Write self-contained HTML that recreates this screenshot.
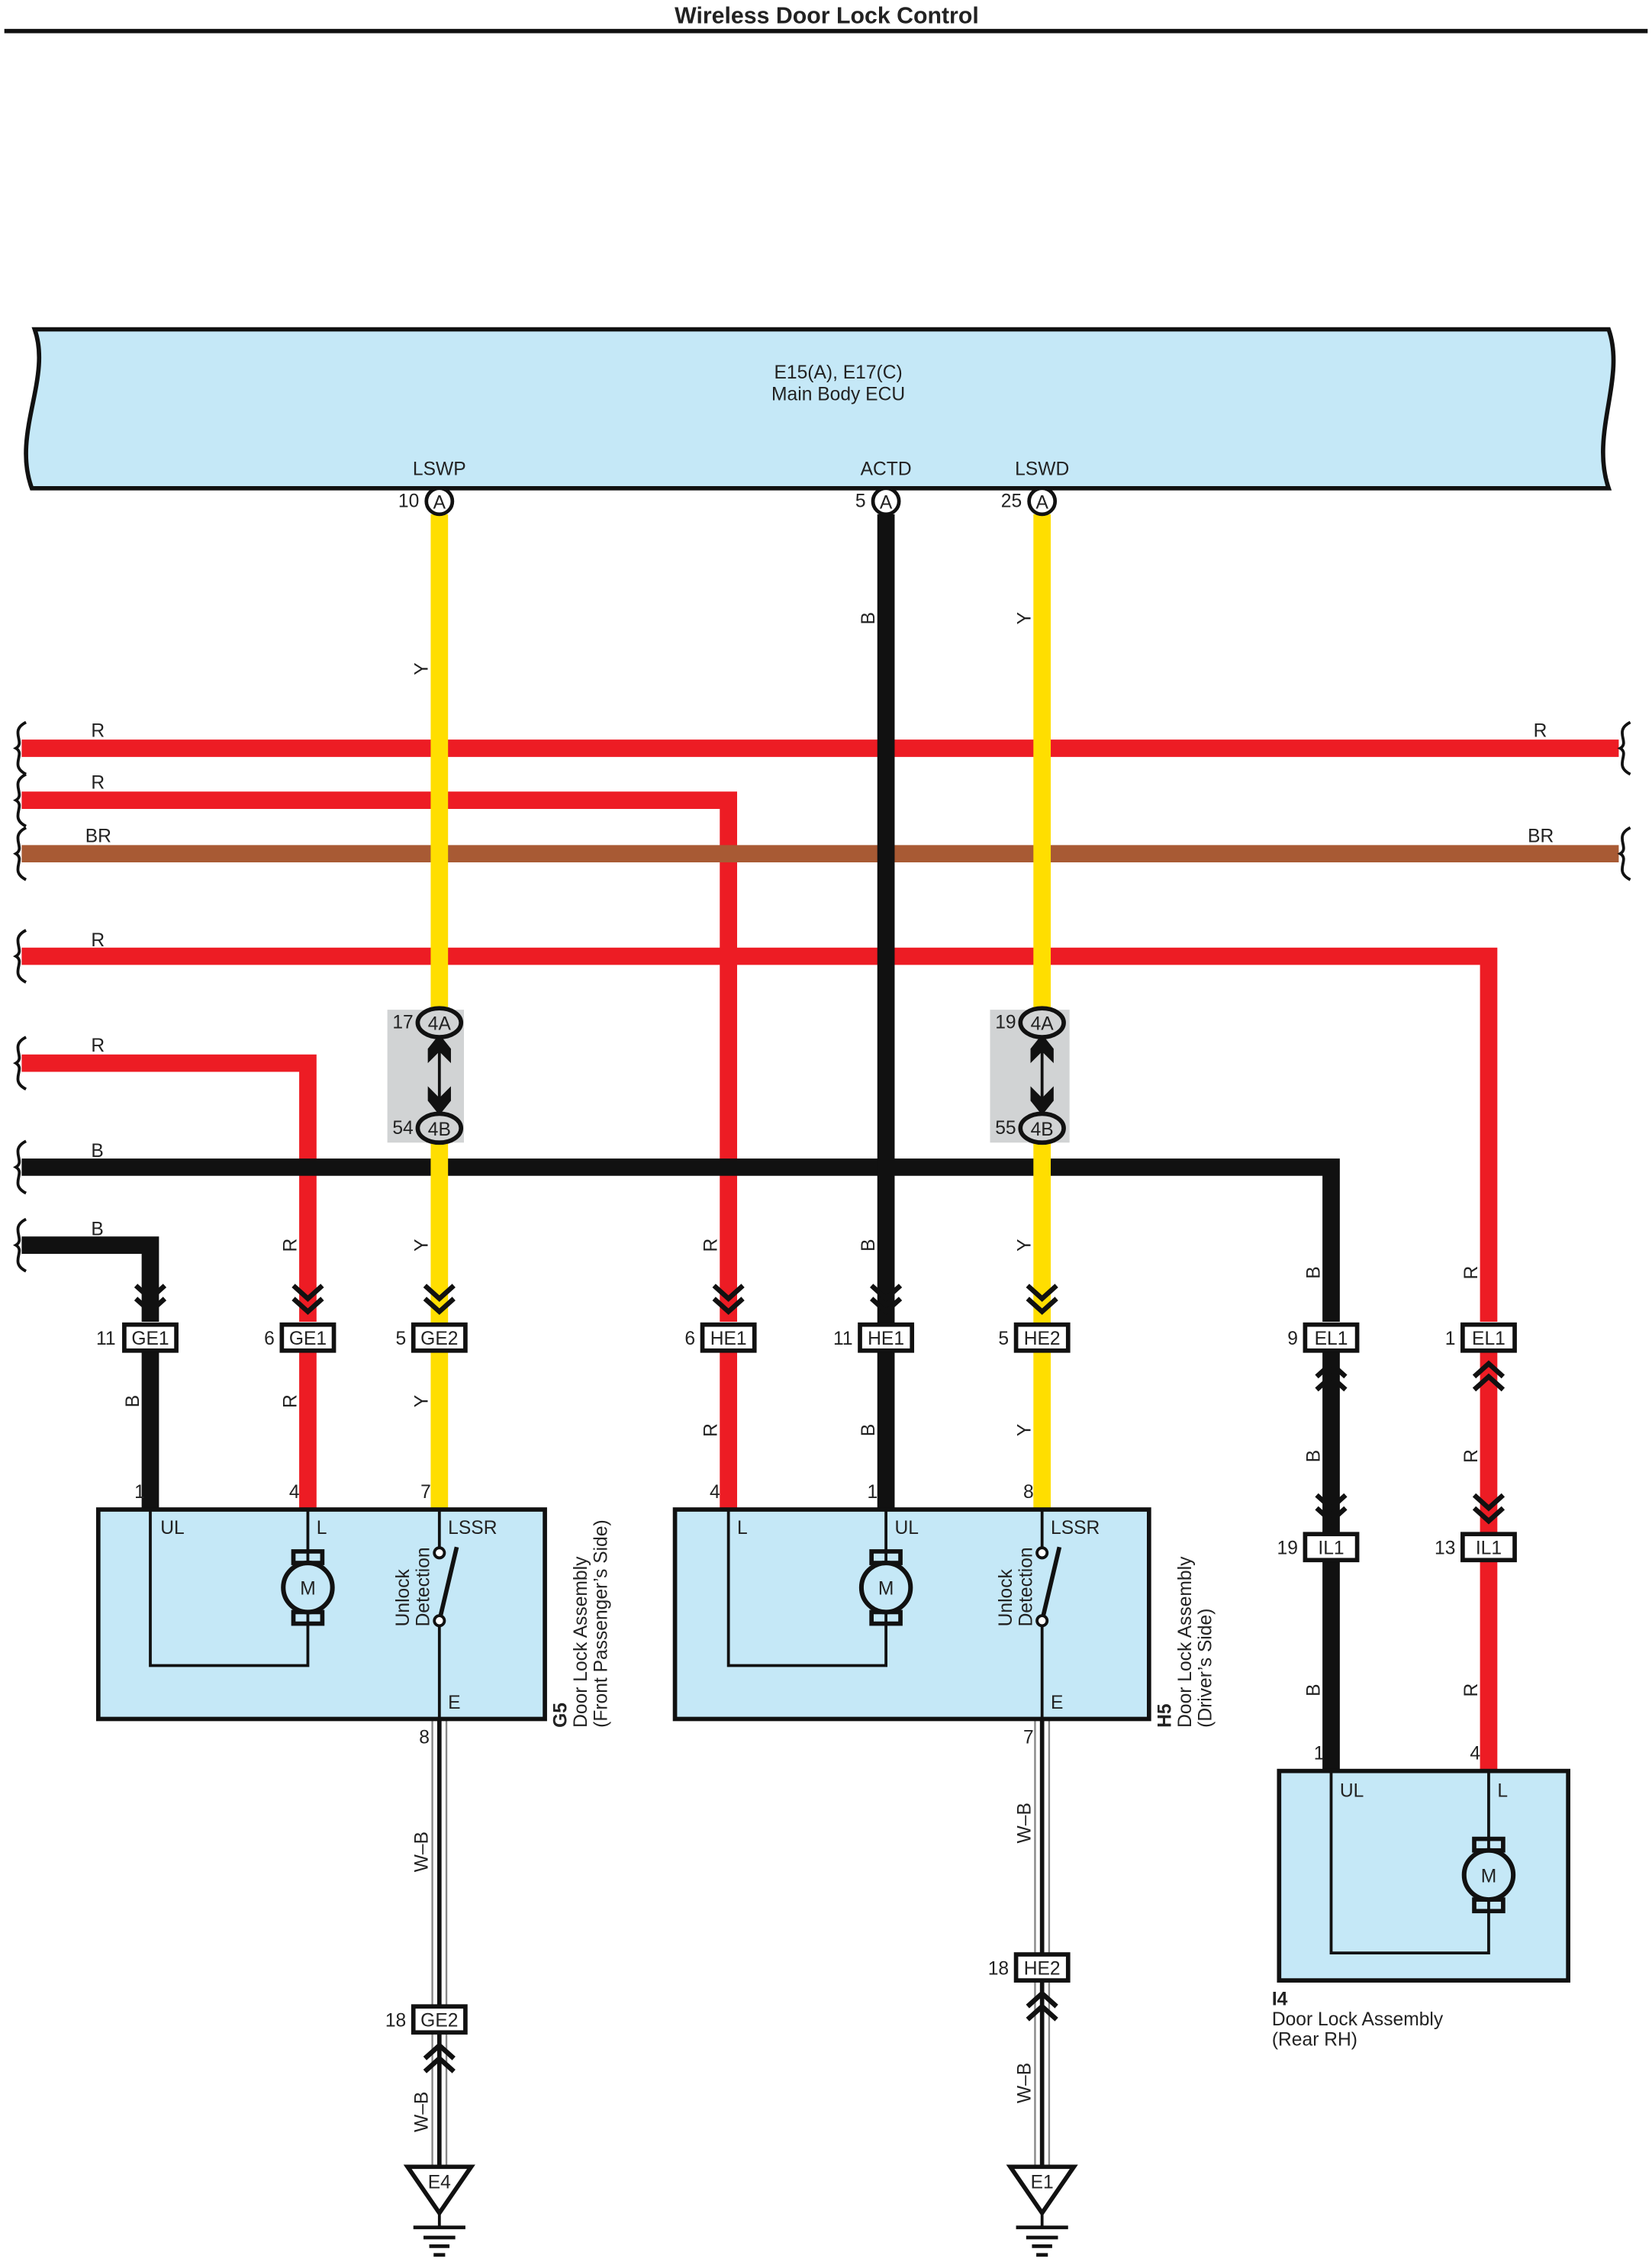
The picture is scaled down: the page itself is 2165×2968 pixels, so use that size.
<!DOCTYPE html>
<html><head><meta charset="utf-8">
<style>
html,body{margin:0;padding:0;background:#fff;}
svg{display:block;}
text{font-family:"Liberation Sans",Arial,sans-serif;fill:#222;}
</style></head>
<body>
<svg width="2165" height="2968" viewBox="0 0 1143 1568" preserveAspectRatio="none" xmlns="http://www.w3.org/2000/svg">
<defs>
<g id="chevD"><path d="M-10,-27 L0,-18 L10,-27 M-10,-18 L0,-9 L10,-18" fill="none" stroke="#111" stroke-width="3.4"/></g>
<g id="chevU"><path d="M-10,27 L0,18 L10,27 M-10,18 L0,9 L10,18" fill="none" stroke="#111" stroke-width="3.4"/></g>
<g id="cb"><rect x="-18" y="917" width="36" height="18" fill="#fff" stroke="#111" stroke-width="3"/></g>
<g id="motor"><rect x="-10" y="-25" width="20" height="8" fill="none" stroke="#111" stroke-width="3"/><rect x="-10" y="17" width="20" height="8" fill="none" stroke="#111" stroke-width="3"/><circle r="17" fill="#c5e8f7" stroke="#111" stroke-width="3.2"/><text y="5" font-size="13" text-anchor="middle">M</text></g>
<g id="gnd"><path d="M-22,0 L22,0 L0,32 Z" fill="#fff" stroke="#111" stroke-width="3"/><line x1="0" y1="32" x2="0" y2="42" stroke="#111" stroke-width="2"/><line x1="-18" y1="42" x2="18" y2="42" stroke="#111" stroke-width="2.5"/><line x1="-11" y1="49" x2="11" y2="49" stroke="#111" stroke-width="2.5"/><line x1="-7" y1="55" x2="7" y2="55" stroke="#111" stroke-width="2.5"/><line x1="-4" y1="61" x2="4" y2="61" stroke="#111" stroke-width="2.5"/></g>
<g id="wave"><path d="M18,-18 C6,-12 18,-4 11,0 C18,4 6,12 18,18" fill="none" stroke="#111" stroke-width="2"/></g>
</defs>

<text x="572" y="16" font-size="16" font-weight="bold" text-anchor="middle">Wireless Door Lock Control</text>
<rect x="3" y="20" width="1137" height="3" fill="#111"/>

<path d="M24,228 L1113,228 C1125,262 1100,300 1113,338 L22,338 C8,300 36,262 24,228 Z" fill="#c5e8f7" stroke="#111" stroke-width="3"/>
<text x="580" y="262" font-size="13" text-anchor="middle">E15(A), E17(C)</text>
<text x="580" y="277" font-size="13" text-anchor="middle">Main Body ECU</text>
<text x="304" y="329" font-size="13" text-anchor="middle">LSWP</text>
<text x="613" y="329" font-size="13" text-anchor="middle">ACTD</text>
<text x="721" y="329" font-size="13" text-anchor="middle">LSWD</text>

<g stroke-linecap="butt" fill="none">
<line x1="15" y1="518" x2="1120" y2="518" stroke="#ed1c24" stroke-width="12"/>
<path d="M15,554 L504,554 L504,915" stroke="#ed1c24" stroke-width="12"/>
<line x1="15" y1="591" x2="1120" y2="591" stroke="#a85a34" stroke-width="12"/>
<path d="M15,662 L1030,662 L1030,915" stroke="#ed1c24" stroke-width="12"/>
<path d="M15,736 L213,736 L213,915" stroke="#ed1c24" stroke-width="12"/>
<path d="M15,808 L921,808 L921,915" stroke="#111" stroke-width="12"/>
<path d="M15,862 L104,862 L104,915" stroke="#111" stroke-width="12"/>
</g>
<use href="#wave" x="0" y="518"/><use href="#wave" x="0" y="554"/><use href="#wave" x="0" y="591"/>
<use href="#wave" x="0" y="662"/><use href="#wave" x="0" y="736"/><use href="#wave" x="0" y="808"/><use href="#wave" x="0" y="862"/>
<use href="#wave" x="1110" y="518"/><use href="#wave" x="1110" y="591"/>
<g font-size="13">
<text x="63" y="510">R</text><text x="1061" y="510">R</text>
<text x="63" y="546">R</text>
<text x="59" y="583">BR</text><text x="1057" y="583">BR</text>
<text x="63" y="655">R</text>
<text x="63" y="728">R</text>
<text x="63" y="801">B</text>
<text x="63" y="855">B</text>
</g>

<g fill="none">
<line x1="304" y1="356" x2="304" y2="1045" stroke="#ffde00" stroke-width="12"/>
<line x1="613" y1="356" x2="613" y2="1045" stroke="#111" stroke-width="12"/>
<line x1="721" y1="356" x2="721" y2="1045" stroke="#ffde00" stroke-width="12"/>
<line x1="104" y1="935" x2="104" y2="1045" stroke="#111" stroke-width="12"/>
<line x1="213" y1="935" x2="213" y2="1045" stroke="#ed1c24" stroke-width="12"/>
<line x1="504" y1="935" x2="504" y2="1045" stroke="#ed1c24" stroke-width="12"/>
<line x1="921" y1="935" x2="921" y2="1226" stroke="#111" stroke-width="12"/>
<line x1="1030" y1="935" x2="1030" y2="1226" stroke="#ed1c24" stroke-width="12"/>
</g>

<g font-size="13">
<circle cx="304" cy="347" r="9" fill="#fff" stroke="#111" stroke-width="2.5"/><text x="304" y="352" text-anchor="middle">A</text><text x="290" y="351" text-anchor="end">10</text>
<circle cx="613" cy="347" r="9" fill="#fff" stroke="#111" stroke-width="2.5"/><text x="613" y="352" text-anchor="middle">A</text><text x="599" y="351" text-anchor="end">5</text>
<circle cx="721" cy="347" r="9" fill="#fff" stroke="#111" stroke-width="2.5"/><text x="721" y="352" text-anchor="middle">A</text><text x="707" y="351" text-anchor="end">25</text>
</g>

<g font-size="13">
<rect x="268" y="699" width="53" height="92" fill="#d1d3d4"/>
<rect x="685" y="699" width="55" height="92" fill="#d1d3d4"/>
<g id="jc">
<line x1="304" y1="720" x2="304" y2="770" stroke="#111" stroke-width="2"/>
<polygon points="304,716 296,726 296,736 304,728 312,736 312,726" fill="#111"/>
<polygon points="304,772 296,762 296,752 304,760 312,752 312,762" fill="#111"/>
<ellipse cx="304" cy="708" rx="15" ry="10" fill="#d1d3d4" stroke="#111" stroke-width="3"/>
<ellipse cx="304" cy="781" rx="15" ry="10" fill="#d1d3d4" stroke="#111" stroke-width="3"/>
<text x="304" y="713" text-anchor="middle">4A</text>
<text x="304" y="786" text-anchor="middle">4B</text>
</g>
<use href="#jc" x="417" y="0"/>
<text x="286" y="712" text-anchor="end">17</text><text x="286" y="785" text-anchor="end">54</text>
<text x="703" y="712" text-anchor="end">19</text><text x="703" y="785" text-anchor="end">55</text>
</g>

<g font-size="13">
<use href="#cb" x="104"/><use href="#cb" x="213"/><use href="#cb" x="304"/><use href="#cb" x="504"/>
<use href="#cb" x="613"/><use href="#cb" x="721"/><use href="#cb" x="921"/><use href="#cb" x="1030"/>
<use href="#chevD" x="104" y="917"/><use href="#chevD" x="213" y="917"/><use href="#chevD" x="304" y="917"/>
<use href="#chevD" x="504" y="917"/><use href="#chevD" x="613" y="917"/><use href="#chevD" x="721" y="917"/>
<use href="#chevU" x="921" y="935"/><use href="#chevU" x="1030" y="935"/>
<text x="104" y="931" text-anchor="middle">GE1</text><text x="80" y="931" text-anchor="end">11</text>
<text x="213" y="931" text-anchor="middle">GE1</text><text x="190" y="931" text-anchor="end">6</text>
<text x="304" y="931" text-anchor="middle">GE2</text><text x="281" y="931" text-anchor="end">5</text>
<text x="504" y="931" text-anchor="middle">HE1</text><text x="481" y="931" text-anchor="end">6</text>
<text x="613" y="931" text-anchor="middle">HE1</text><text x="590" y="931" text-anchor="end">11</text>
<text x="721" y="931" text-anchor="middle">HE2</text><text x="698" y="931" text-anchor="end">5</text>
<text x="921" y="931" text-anchor="middle">EL1</text><text x="898" y="931" text-anchor="end">9</text>
<text x="1030" y="931" text-anchor="middle">EL1</text><text x="1007" y="931" text-anchor="end">1</text>
<rect x="903" y="1062" width="36" height="18" fill="#fff" stroke="#111" stroke-width="3"/>
<rect x="1012" y="1062" width="36" height="18" fill="#fff" stroke="#111" stroke-width="3"/>
<use href="#chevD" x="921" y="1062"/><use href="#chevD" x="1030" y="1062"/>
<text x="921" y="1076" text-anchor="middle">IL1</text><text x="898" y="1076" text-anchor="end">19</text>
<text x="1030" y="1076" text-anchor="middle">IL1</text><text x="1007" y="1076" text-anchor="end">13</text>
</g>

<g font-size="13" text-anchor="middle">
<text transform="translate(296,463) rotate(-90)">Y</text>
<text transform="translate(605,428) rotate(-90)">B</text>
<text transform="translate(713,428) rotate(-90)">Y</text>
<text transform="translate(205,862) rotate(-90)">R</text>
<text transform="translate(296,862) rotate(-90)">Y</text>
<text transform="translate(496,862) rotate(-90)">R</text>
<text transform="translate(605,862) rotate(-90)">B</text>
<text transform="translate(713,862) rotate(-90)">Y</text>
<text transform="translate(913,881) rotate(-90)">B</text>
<text transform="translate(1022,881) rotate(-90)">R</text>
<text transform="translate(96,970) rotate(-90)">B</text>
<text transform="translate(205,970) rotate(-90)">R</text>
<text transform="translate(296,970) rotate(-90)">Y</text>
<text transform="translate(496,990) rotate(-90)">R</text>
<text transform="translate(605,990) rotate(-90)">B</text>
<text transform="translate(713,990) rotate(-90)">Y</text>
<text transform="translate(913,1008) rotate(-90)">B</text>
<text transform="translate(1022,1008) rotate(-90)">R</text>
<text transform="translate(913,1170) rotate(-90)">B</text>
<text transform="translate(1022,1170) rotate(-90)">R</text>
<text transform="translate(296,1282) rotate(-90)">W–B</text>
<text transform="translate(296,1462) rotate(-90)">W–B</text>
<text transform="translate(713,1262) rotate(-90)">W–B</text>
<text transform="translate(713,1442) rotate(-90)">W–B</text>
</g>

<g fill="none">
<g id="wb1">
<line x1="304" y1="1190" x2="304" y2="1500" stroke="#888" stroke-width="11"/>
<line x1="304" y1="1190" x2="304" y2="1500" stroke="#fff" stroke-width="8.5"/>
<line x1="304" y1="1190" x2="304" y2="1500" stroke="#111" stroke-width="3"/>
</g>
<use href="#wb1" x="417"/>
</g>
<g font-size="13">
<rect x="286" y="1389" width="36" height="18" fill="#fff" stroke="#111" stroke-width="3"/>
<use href="#chevU" x="304" y="1407"/>
<text x="304" y="1403" text-anchor="middle">GE2</text><text x="281" y="1403" text-anchor="end">18</text>
<rect x="703" y="1353" width="36" height="18" fill="#fff" stroke="#111" stroke-width="3"/>
<use href="#chevU" x="721" y="1371"/>
<text x="721" y="1367" text-anchor="middle">HE2</text><text x="698" y="1367" text-anchor="end">18</text>
<use href="#gnd" x="304" y="1500"/><text x="304" y="1515" text-anchor="middle">E4</text>
<use href="#gnd" x="721" y="1500"/><text x="721" y="1515" text-anchor="middle">E1</text>
</g>

<g font-size="13" fill="none">
<rect x="68" y="1045" width="309" height="145" fill="#c5e8f7" stroke="#111" stroke-width="3"/>
<path d="M104,1045 L104,1153 L213,1153 L213,1045" stroke="#111" stroke-width="2"/>
<use href="#motor" x="213" y="1099"/>
<line x1="304" y1="1045" x2="304" y2="1075" stroke="#111" stroke-width="2"/>
<line x1="304" y1="1122" x2="304" y2="1190" stroke="#111" stroke-width="2"/>
<line x1="304" y1="1122" x2="316" y2="1071" stroke="#111" stroke-width="3"/>
<circle cx="304" cy="1075" r="3.5" fill="#fff" stroke="#111" stroke-width="2"/>
<circle cx="304" cy="1122" r="3.5" fill="#fff" stroke="#111" stroke-width="2"/>
</g>
<g font-size="13">
<text x="111" y="1062">UL</text><text x="219" y="1062">L</text><text x="310" y="1062">LSSR</text>
<text x="310" y="1183">E</text>
<text x="93" y="1037">1</text><text x="200" y="1037">4</text><text x="291" y="1037">7</text>
<text x="290" y="1207">8</text>
<text transform="translate(283,1126) rotate(-90)">Unlock</text>
<text transform="translate(297,1126) rotate(-90)">Detection</text>
<text transform="translate(392,1196) rotate(-90)" font-weight="bold">G5</text>
<text transform="translate(406,1196) rotate(-90)">Door Lock Assembly</text>
<text transform="translate(420,1196) rotate(-90)">(Front Passenger’s Side)</text>
</g>

<g font-size="13" fill="none">
<rect x="467" y="1045" width="328" height="145" fill="#c5e8f7" stroke="#111" stroke-width="3"/>
<path d="M504,1045 L504,1153 L613,1153 L613,1045" stroke="#111" stroke-width="2"/>
<use href="#motor" x="613" y="1099"/>
<line x1="721" y1="1045" x2="721" y2="1075" stroke="#111" stroke-width="2"/>
<line x1="721" y1="1122" x2="721" y2="1190" stroke="#111" stroke-width="2"/>
<line x1="721" y1="1122" x2="733" y2="1071" stroke="#111" stroke-width="3"/>
<circle cx="721" cy="1075" r="3.5" fill="#fff" stroke="#111" stroke-width="2"/>
<circle cx="721" cy="1122" r="3.5" fill="#fff" stroke="#111" stroke-width="2"/>
</g>
<g font-size="13">
<text x="510" y="1062">L</text><text x="619" y="1062">UL</text><text x="727" y="1062">LSSR</text>
<text x="727" y="1183">E</text>
<text x="491" y="1037">4</text><text x="600" y="1037">1</text><text x="708" y="1037">8</text>
<text x="708" y="1207">7</text>
<text transform="translate(700,1126) rotate(-90)">Unlock</text>
<text transform="translate(714,1126) rotate(-90)">Detection</text>
<text transform="translate(810,1196) rotate(-90)" font-weight="bold">H5</text>
<text transform="translate(824,1196) rotate(-90)">Door Lock Assembly</text>
<text transform="translate(838,1196) rotate(-90)">(Driver’s Side)</text>
</g>

<g font-size="13" fill="none">
<rect x="885" y="1226" width="200" height="145" fill="#c5e8f7" stroke="#111" stroke-width="3"/>
<path d="M921,1226 L921,1352 L1030,1352 L1030,1226" stroke="#111" stroke-width="2"/>
<use href="#motor" x="1030" y="1298"/>
</g>
<g font-size="13">
<text x="927" y="1244">UL</text><text x="1036" y="1244">L</text>
<text x="909" y="1218">1</text><text x="1017" y="1218">4</text>
<text x="880" y="1388" font-weight="bold">I4</text>
<text x="880" y="1402">Door Lock Assembly</text>
<text x="880" y="1416">(Rear RH)</text>
</g>
</svg>
</body></html>
